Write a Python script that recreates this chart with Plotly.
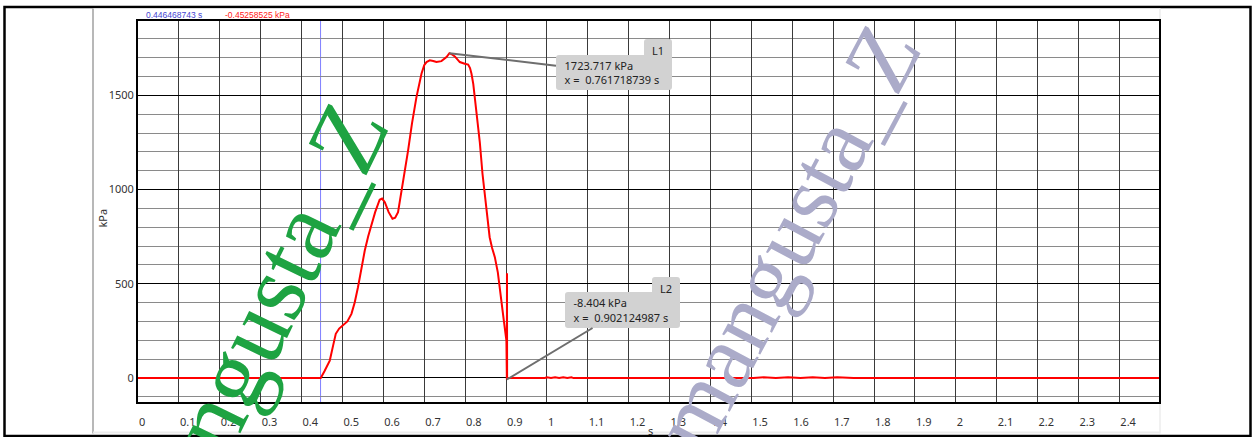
import plotly.graph_objects as go

# ---------------- data ----------------
time_s = [0.0, 0.4470, 0.4560, 0.4690, 0.4770, 0.4837, 0.4920, 0.5016, 0.5120, 0.5220,
          0.5300, 0.5380, 0.5460, 0.5546, 0.5630, 0.5710, 0.5800, 0.5910, 0.5970,
          0.6036, 0.6130, 0.6224, 0.6290, 0.6360, 0.6480, 0.6606, 0.6700, 0.6810,
          0.6933, 0.7000, 0.7056, 0.7136, 0.7220, 0.7300, 0.7420, 0.7545, 0.7617,
          0.7680, 0.7748, 0.7870, 0.7990, 0.8075, 0.8120, 0.8156, 0.8200, 0.8237,
          0.8318, 0.8360, 0.8425, 0.8520, 0.8600, 0.8660, 0.8727, 0.8800, 0.8850,
          0.8947, 0.9010, 0.9021, 0.9024, 0.9027,
          0.9950, 1.0000, 1.0100, 1.0200, 1.0300, 1.0400, 1.0500, 1.0600, 1.0650, 1.0730,
          1.5050, 1.5300, 1.5600, 1.5900, 1.6200, 1.6500, 1.6800, 1.7100, 1.7500,
          2.0200, 2.0500, 2.0800, 2.1100, 2.1400, 2.1750, 2.5000]
pressure_kpa = [0.0, 0.0, 35, 92, 170, 234, 262, 278, 300, 340,
                400, 481, 580, 676, 752, 818, 880, 946, 952,
                933, 880, 845, 850, 880, 1035, 1208, 1350, 1491,
                1615, 1660, 1677, 1686, 1683, 1677, 1682, 1703, 1723.717,
                1718, 1707, 1677, 1668, 1664, 1645, 1615, 1560, 1491,
                1314, 1250, 1084, 907, 747, 690, 641, 560, 481,
                304, 198, -8.404, 555, 0.0,
                0.0, 3, -1, 3, -1, 3, -1, 3, -1, 0.0,
                0.0, 3, -1, 3, -1, 3, -1, 3, 0.0,
                0.0, 3, -1, 3, -1, 0.0, 0.0]

x_tick_vals = [0, 0.1, 0.2, 0.3, 0.4, 0.5, 0.6, 0.7, 0.8, 0.9, 1, 1.1, 1.2, 1.3,
               1.4, 1.5, 1.6, 1.7, 1.8, 1.9, 2, 2.1, 2.2, 2.3, 2.4]
x_tick_text = ["0", "0.1", "0.2", "0.3", "0.4", "0.5", "0.6", "0.7", "0.8", "0.9", "1",
               "1.1", "1.2", "1.3", "1.4", "1.5", "1.6", "1.7", "1.8", "1.9", "2",
               "2.1", "2.2", "2.3", "2.4"]
y_tick_vals = [0, 500, 1000, 1500]
y_tick_text = ["0", "500", "1000", "1500"]

cursor_time = 0.446468743
cursor_value = -0.45258525
marker_names = ["L1", "L2"]
marker_time = [0.761718739, 0.902124987]
marker_value = [1723.717, -8.404]

# ---------------- layout geometry ----------------
W_PAGE, H_PAGE = 1257, 437
ML, MR, MT, MB = 138, 98, 21, 35
PW = W_PAGE - ML - MR
PH = H_PAGE - MT - MB
X_RANGE = [0, 2.497]
Y_RANGE = [-128, 1895]


def px(xpix):
    return (xpix - ML) / PW


def py(ypix):
    return (H_PAGE - MB - ypix) / PH


def data_pix(x, y):
    xp = ML + (x - X_RANGE[0]) / (X_RANGE[1] - X_RANGE[0]) * PW
    yp = MT + (Y_RANGE[1] - y) / (Y_RANGE[1] - Y_RANGE[0]) * PH
    return xp, yp


FONT = "Noto Sans"

fig = go.Figure()
fig.add_trace(go.Scatter(x=time_s, y=pressure_kpa, mode="lines",
                         line=dict(color="#ff0000", width=2), hoverinfo="skip",
                         showlegend=False))

shapes = []
# outer black frame
shapes.append(dict(type="rect", xref="paper", yref="paper", layer="below",
                   x0=px(4.5), x1=px(1250.5), y0=py(436), y1=py(7),
                   line=dict(color="black", width=2.5), fillcolor="white"))
# inner panel
shapes.append(dict(type="rect", xref="paper", yref="paper", layer="below",
                   x0=px(93), x1=px(1160), y0=py(433.5), y1=py(8.5),
                   line=dict(width=0), fillcolor="white"))
shapes.append(dict(type="line", xref="paper", yref="paper", layer="below",
                   x0=px(93), x1=px(93), y0=py(433.5), y1=py(8.5),
                   line=dict(color="#a0a0a0", width=1.5)))
shapes.append(dict(type="line", xref="paper", yref="paper", layer="below",
                   x0=px(93), x1=px(1160), y0=py(432.5), y1=py(432.5),
                   line=dict(color="#ececec", width=2)))
shapes.append(dict(type="line", xref="paper", yref="paper", layer="below",
                   x0=px(1160), x1=px(1160), y0=py(433.5), y1=py(8.5),
                   line=dict(color="#ececec", width=1.5)))
# cursor line
shapes.append(dict(type="line", xref="x", yref="paper", layer="between",
                   x0=cursor_time, x1=cursor_time, y0=0, y1=1,
                   line=dict(color="#7f7fff", width=1)))


def rounded_box_path(bx0, by0, bx1, by1, tx0, ty0, r=3):
    pts = []
    def P(x, y):
        return f"{px(x):.6f},{py(y):.6f}"
    pts.append("M" + P(bx0 + r, by0))
    pts.append("L" + P(tx0, by0))
    pts.append("L" + P(tx0, ty0 + r))
    pts.append("Q" + P(tx0, ty0) + " " + P(tx0 + r, ty0))
    pts.append("L" + P(bx1 - r, ty0))
    pts.append("Q" + P(bx1, ty0) + " " + P(bx1, ty0 + r))
    pts.append("L" + P(bx1, by1 - r))
    pts.append("Q" + P(bx1, by1) + " " + P(bx1 - r, by1))
    pts.append("L" + P(bx0 + r, by1))
    pts.append("Q" + P(bx0, by1) + " " + P(bx0, by1 - r))
    pts.append("L" + P(bx0, by0 + r))
    pts.append("Q" + P(bx0, by0) + " " + P(bx0 + r, by0))
    return " ".join(pts) + " Z"


# marker label boxes (pixel boxes: main box and tab)
boxes = [dict(bx0=556, by0=55, bx1=672, by1=90, tx0=644, ty0=39),
         dict(bx0=565, by0=292, bx1=680, by1=328, tx0=652, ty0=277)]

annotations = []
nb = "\u00a0"
for name, mt, mv, b in zip(marker_names, marker_time, marker_value, boxes):
    shapes.append(dict(type="path", xref="paper", yref="paper", layer="above",
                       path=rounded_box_path(**b), fillcolor="#d2d2d2",
                       line=dict(width=0)))
    xp, yp = data_pix(mt, mv)
    cx = (b["bx0"] + b["bx1"]) / 2
    cy = (b["by0"] + b["by1"]) / 2
    annotations.append(dict(
        x=mt, y=mv, xref="x", yref="y", axref="pixel", ayref="pixel",
        ax=cx - xp, ay=cy - yp, showarrow=True, arrowhead=0,
        arrowcolor="#6e6e6e", arrowwidth=2,
        text=f"{nb*3}{mv:.3f} kPa<br>{nb*3}x ={nb}{nb}{mt:.9f} s",
        align="left", width=b["bx1"] - b["bx0"], height=b["by1"] - b["by0"],
        borderpad=0, borderwidth=0, bgcolor="rgba(0,0,0,0)",
        font=dict(family=FONT, size=11, color="#222222")))
    annotations.append(dict(
        x=px((b["tx0"] + b["bx1"]) / 2), y=py(b["by0"] - 4), xref="paper", yref="paper",
        text=name, showarrow=False, xanchor="center", yanchor="middle",
        font=dict(family=FONT, size=11, color="#222222")))

# header readouts
annotations.append(dict(x=px(144), y=py(14.5), xref="paper", yref="paper",
                        text=f"{cursor_time:.9f} s", showarrow=False,
                        xanchor="left", yanchor="middle",
                        font=dict(family="Liberation Sans", size=8.5, color="#4646d2")))
annotations.append(dict(x=px(223), y=py(14.5), xref="paper", yref="paper",
                        text=f"{cursor_value:.8f} kPa", showarrow=False,
                        xanchor="left", yanchor="middle",
                        font=dict(family="Liberation Sans", size=8.5, color="#ff2020")))
# axis titles
annotations.append(dict(x=px(650), y=py(430), xref="paper", yref="paper",
                        text="s", showarrow=False, xanchor="center", yanchor="middle",
                        font=dict(family=FONT, size=11, color="#333333")))
annotations.append(dict(x=px(101.5), y=py(218), xref="paper", yref="paper",
                        text="kPa", showarrow=False, xanchor="center", yanchor="middle",
                        textangle=-90,
                        font=dict(family=FONT, size=11, color="#333333")))
# watermarks
annotations.append(dict(x=px(252), y=py(332), xref="paper", yref="paper",
                        text="mangusta_Z", showarrow=False, textangle=-64,
                        xanchor="center", yanchor="middle",
                        font=dict(family="Liberation Serif", size=100, color="#1ea342")))
annotations.append(dict(x=px(786), y=py(238), xref="paper", yref="paper",
                        text="mangusta_Z", showarrow=False, textangle=-62,
                        xanchor="center", yanchor="middle",
                        font=dict(family="Liberation Serif", size=94, color="#ababc9")))

fig.update_layout(
    width=W_PAGE, height=H_PAGE,
    margin=dict(l=ML, r=MR, t=MT, b=MB, pad=0, autoexpand=False),
    paper_bgcolor="white", plot_bgcolor="white",
    shapes=shapes, annotations=annotations,
    font=dict(family=FONT, size=11, color="#333333"),
    xaxis=dict(range=X_RANGE, tickmode="array", tickvals=x_tick_vals,
               ticktext=x_tick_text, ticklabelposition="outside right",
               ticklabelstandoff=9, automargin=False,
               showgrid=True, gridcolor="#3a3a3a", gridwidth=1, zeroline=False,
               showline=True, linecolor="black", linewidth=2, mirror=True,
               ticks="", tickfont=dict(family=FONT, size=11, color="#333333")),
    yaxis=dict(range=Y_RANGE, tickmode="array", tickvals=y_tick_vals,
               ticktext=y_tick_text, automargin=False,
               showgrid=True, gridcolor="#000000", gridwidth=1, zeroline=False,
               minor=dict(dtick=100, tick0=0, showgrid=True, gridcolor="#8a8a8a",
                          gridwidth=1, ticks=""),
               showline=True, linecolor="black", linewidth=2, mirror=True,
               ticks="", tickfont=dict(family=FONT, size=11, color="#333333")),
)

fig.write_html("out.html")
